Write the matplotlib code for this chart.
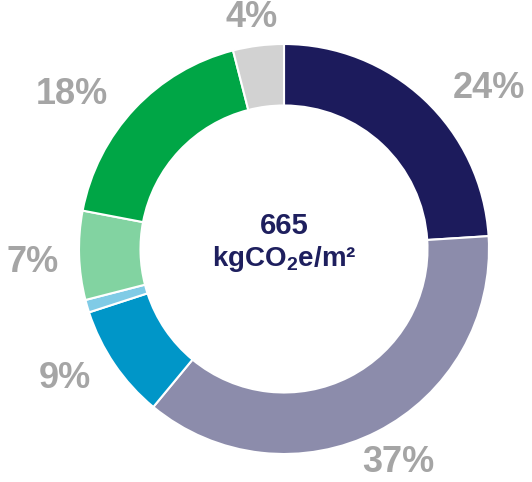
import matplotlib.pyplot as plt
import numpy as np

plt.rcParams['font.family'] = ['Liberation Sans', 'DejaVu Sans']
plt.rcParams['mathtext.fontset'] = 'custom'
plt.rcParams['mathtext.rm'] = 'Liberation Sans:bold'
plt.rcParams['mathtext.bf'] = 'Liberation Sans:bold'

# share of embodied carbon per category (clockwise from top)
shares = [24, 37, 9, 1, 7, 18, 4]
labels = ['24%', '37%', '9%', '', '7%', '18%', '4%']
colors = ['#1c1b5c', '#8c8cab', '#0096c8', '#80cbe6', '#82d3a1', '#00a646', '#d2d2d2']
total_value = '665'
total_unit = r'kgCO$_2$e/m²'

# label placement tweaks (degrees off slice middle, radius)
label_nudge = [-8.8, 1.2, -3.7, 0, 1.2, 7.2, 0.7]
label_radius = [1.27, 1.18, 1.24, 1.2, 1.23, 1.28, 1.14]

fig = plt.figure(figsize=(5.32, 4.82), dpi=100)
ax = fig.add_axes([0, 0, 1, 1])

wedges, _ = ax.pie(shares, colors=colors, startangle=90, counterclock=False,
                   radius=1.0, wedgeprops=dict(width=0.3, edgecolor='white', linewidth=1.5))

for w, lab, dn, r in zip(wedges, labels, label_nudge, label_radius):
    if not lab:
        continue
    mid = np.deg2rad((w.theta1 + w.theta2) / 2 + dn)
    ax.text(r * np.cos(mid), r * np.sin(mid), lab, ha='center', va='center',
            fontsize=26, fontweight='bold', color='#a5a5a5')

ax.text(0, 0.11, total_value, ha='center', va='center', fontsize=21,
        fontweight='bold', color='#1e1f5e')
ax.text(0, -0.05, total_unit, ha='center', va='center', fontsize=20,
        fontweight='bold', color='#1e1f5e')

ax.set_xlim(-284 / 205, (532 - 284) / 205)
ax.set_ylim(-(482 - 249) / 205, 249 / 205)
ax.set_aspect('equal')
ax.axis('off')

plt.savefig('out.png', dpi=100)
